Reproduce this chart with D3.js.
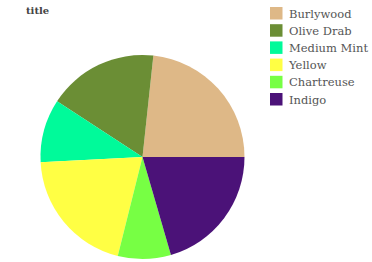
<!DOCTYPE html>
<html>
<head>
<meta charset="UTF-8">
<script src="https://d3js.org/d3.v7.min.js"></script>
<style>
  body { margin: 0; background: #fff; }
  svg { display: block; }
  svg text { font-family: "DejaVu Serif", serif; }
</style>
</head>
<body>
<div id="chart"></div>
<script>
const labels = ["Burlywood", "Olive Drab", "Medium Mint", "Yellow", "Chartreuse", "Indigo"];
const values = [23.3, 17.5, 10.0, 20.3, 8.4, 20.5];
const colors = ["#deb887", "#6b8e35", "#00fa9a", "#ffff44", "#77ff44", "#4b1278"];

const width = 372, height = 262;
const cx = 142.5, cy = 157, radius = 102;

const svg = d3.select("#chart").append("svg")
  .attr("width", width)
  .attr("height", height);

svg.append("text")
  .attr("x", 26)
  .attr("y", 14)
  .attr("font-family", "DejaVu Serif")
  .style("font-size", "10px")
  .style("font-weight", "bold")
  .style("fill", "#444")
  .text("title");

// slices run counter-clockwise, starting at 3 o'clock
const pie = d3.pie()
  .sort(null)
  .startAngle(Math.PI / 2)
  .endAngle(Math.PI / 2 - 2 * Math.PI);

const arc = d3.arc().innerRadius(0).outerRadius(radius);

const color = d3.scaleOrdinal().domain(labels).range(colors);

svg.append("g")
  .attr("transform", `translate(${cx},${cy})`)
  .selectAll("path")
  .data(pie(values))
  .enter()
  .append("path")
  .attr("d", arc)
  .attr("fill", (d, i) => color(labels[i]));

// legend
const legend = svg.append("g")
  .attr("transform", "translate(270,7)");

const row = legend.selectAll("g")
  .data(labels)
  .enter()
  .append("g")
  .attr("transform", (d, i) => `translate(0,${i * 17.2})`);

row.append("rect")
  .attr("width", 12.5)
  .attr("height", 12.5)
  .attr("fill", d => color(d));

row.append("text")
  .attr("x", 19)
  .attr("y", 6.5)
  .attr("dy", "0.35em")
  .attr("font-family", "DejaVu Serif")
  .style("font-size", "11.5px")
  .style("fill", "#555")
  .text(d => d);
</script>
</body>
</html>
